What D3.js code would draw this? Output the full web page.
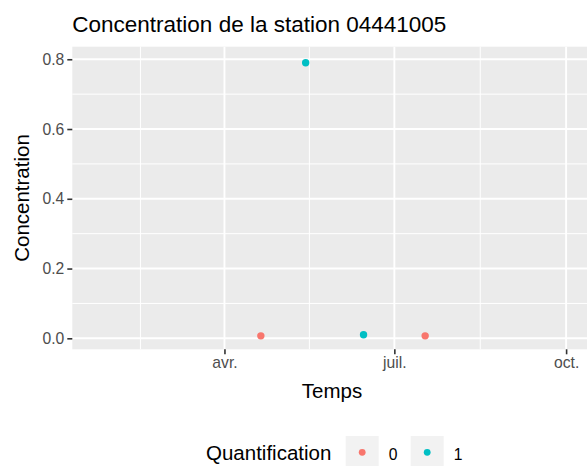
<!DOCTYPE html>
<html>
<head>
<meta charset="utf-8">
<script src="https://cdn.jsdelivr.net/npm/d3@7"></script>
<style>
  html, body { margin: 0; padding: 0; background: #ffffff; }
  svg { display: block; font-family: "Liberation Sans", Arial, sans-serif; }
</style>
</head>
<body>
<svg id="chart" width="587" height="466"></svg>
<script>
// Sampling dates, measured concentrations and quantification flag per sample
const sampleDates = ["2019-04-20T12:00", "2019-05-14T12:00", "2019-06-14T12:00", "2019-07-17T12:00"];
const concentrations = [0.007, 0.79, 0.01, 0.007];
const quantification = ["0", "1", "1", "0"];

// Axis breaks and labels
const xBreakDates = ["2019-01-01", "2019-04-01", "2019-07-01", "2019-10-01"];
const xBreakLabels = ["janv.", "avr.", "juil.", "oct."];
const yBreaks = [0, 0.2, 0.4, 0.6, 0.8];
const yBreakLabels = ["0.0", "0.2", "0.4", "0.6", "0.8"];
const xDomain = ["2019-01-09T12:00", "2019-10-14T17:00"];
const yDomain = [-0.0315, 0.836];

const legendLevels = ["0", "1"];
const legendColors = ["#F8766D", "#00BFC4"];

const parse = d3.isoParse;
const svg = d3.select("#chart");

const panel = { left: 72.3, right: 591.7, top: 46.7, bottom: 349.3 };

const x = d3.scaleTime()
  .domain(xDomain.map(parse))
  .range([panel.left, panel.right]);
const y = d3.scaleLinear()
  .domain(yDomain)
  .range([panel.bottom, panel.top]);
const color = d3.scaleOrdinal().domain(legendLevels).range(legendColors);

// Panel background
svg.append("rect")
  .attr("x", panel.left).attr("y", panel.top)
  .attr("width", panel.right - panel.left)
  .attr("height", panel.bottom - panel.top)
  .attr("fill", "#EBEBEB");

const grid = svg.append("g");

// Minor gridlines sit halfway between consecutive breaks
const xb = xBreakDates.map(parse);
const xMinor = [];
for (let i = 0; i < xb.length - 1; i++) xMinor.push(new Date((+xb[i] + +xb[i + 1]) / 2));
const yMinor = [];
for (let i = 0; i < yBreaks.length - 1; i++) yMinor.push((yBreaks[i] + yBreaks[i + 1]) / 2);

const inX = d => x(d) >= panel.left && x(d) <= panel.right;

grid.selectAll(".ymin").data(yMinor).join("line")
  .attr("x1", panel.left).attr("x2", panel.right)
  .attr("y1", d => y(d)).attr("y2", d => y(d))
  .attr("stroke", "#ffffff").attr("stroke-width", 1);
grid.selectAll(".xmin").data(xMinor.filter(inX)).join("line")
  .attr("y1", panel.top).attr("y2", panel.bottom)
  .attr("x1", d => x(d)).attr("x2", d => x(d))
  .attr("stroke", "#ffffff").attr("stroke-width", 1);
grid.selectAll(".ymaj").data(yBreaks).join("line")
  .attr("x1", panel.left).attr("x2", panel.right)
  .attr("y1", d => y(d)).attr("y2", d => y(d))
  .attr("stroke", "#ffffff").attr("stroke-width", 1.9);
grid.selectAll(".xmaj").data(xb.filter(inX)).join("line")
  .attr("y1", panel.top).attr("y2", panel.bottom)
  .attr("x1", d => x(d)).attr("x2", d => x(d))
  .attr("stroke", "#ffffff").attr("stroke-width", 1.9);

// Points
const pts = sampleDates.map((d, i) => ({ date: parse(d), value: concentrations[i], q: quantification[i] }));
svg.append("g").selectAll("circle").data(pts).join("circle")
  .attr("cx", d => x(d.date))
  .attr("cy", d => y(d.value))
  .attr("r", 3.7)
  .attr("fill", d => color(d.q));

// Axes
const xLabelOf = new Map(xBreakDates.map((d, i) => [+parse(d), xBreakLabels[i]]));
const xAxis = d3.axisBottom(x)
  .tickValues(xb.filter(inX))
  .tickFormat(d => xLabelOf.get(+d))
  .tickSizeInner(5).tickSizeOuter(0).tickPadding(3);
const gx = svg.append("g").attr("transform", `translate(0,${panel.bottom})`).call(xAxis);
gx.select(".domain").remove();
gx.selectAll("line").attr("stroke", "#333333").attr("stroke-width", 1.6);
gx.selectAll("text").attr("fill", "#4D4D4D").attr("font-size", 15.7)
  .attr("font-family", "Liberation Sans, Arial, sans-serif");

const yLabelOf = new Map(yBreaks.map((d, i) => [d, yBreakLabels[i]]));
const yAxis = d3.axisLeft(y)
  .tickValues(yBreaks)
  .tickFormat(d => yLabelOf.get(d))
  .tickSizeInner(5).tickSizeOuter(0).tickPadding(3);
const gy = svg.append("g").attr("transform", `translate(${panel.left},0)`).call(yAxis);
gy.select(".domain").remove();
gy.selectAll("line").attr("stroke", "#333333").attr("stroke-width", 1.6);
gy.selectAll("text").attr("fill", "#4D4D4D").attr("font-size", 15.7)
  .attr("font-family", "Liberation Sans, Arial, sans-serif");

// Titles
svg.append("text")
  .attr("x", panel.left).attr("y", 31.7)
  .attr("font-size", 22.5).attr("fill", "#000000")
  .text("Concentration de la station 04441005");

svg.append("text")
  .attr("x", (panel.left + panel.right) / 2).attr("y", 398.3)
  .attr("text-anchor", "middle")
  .attr("font-size", 20.5).attr("fill", "#000000")
  .text("Temps");

svg.append("text")
  .attr("transform", `translate(29,${(panel.top + panel.bottom) / 2}) rotate(-90)`)
  .attr("text-anchor", "middle")
  .attr("font-size", 20.5).attr("fill", "#000000")
  .text("Concentration");

// Legend
const legend = svg.append("g");
legend.append("text")
  .attr("x", 206).attr("y", 459.5)
  .attr("font-size", 20.5).attr("fill", "#000000")
  .text("Quantification");

const keyX = [345.7, 410.7];
const keySize = 33;
const keys = legend.selectAll(".key").data(legendLevels).join("g")
  .attr("transform", (d, i) => `translate(${keyX[i]},436)`);
keys.append("rect")
  .attr("width", keySize).attr("height", keySize)
  .attr("fill", "#F2F2F2");
keys.append("circle")
  .attr("cx", keySize / 2).attr("cy", 16.3)
  .attr("r", 3.4)
  .attr("fill", d => color(d));
keys.append("text")
  .attr("x", keySize + 10).attr("y", 459.5 - 436)
  .attr("font-size", 15.7).attr("fill", "#000000")
  .text(d => d);
</script>
</body>
</html>
